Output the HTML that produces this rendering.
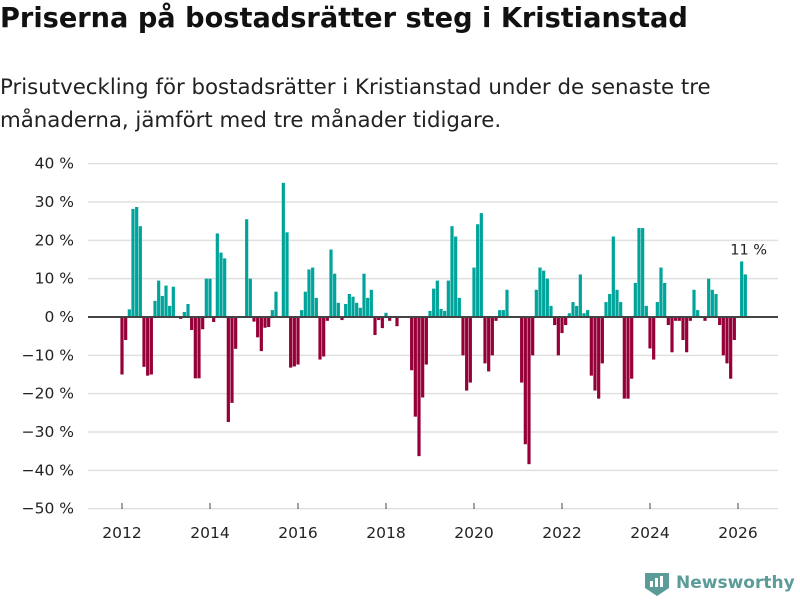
<!DOCTYPE html>
<html><head><meta charset="utf-8">
<style>
body{margin:0;width:800px;height:600px;background:#fff;font-family:"DejaVu Sans","Liberation Sans",sans-serif;overflow:hidden;position:relative}
#title{position:absolute;left:0;top:3px;font-size:27.2px;font-weight:bold;color:#111;white-space:nowrap}
#sub{position:absolute;left:0;top:71px;font-size:21.3px;line-height:33px;color:#222;white-space:nowrap}
svg{position:absolute;left:0;top:0}
</style></head><body>
<div id="title">Priserna på bostadsrätter steg i Kristianstad</div>
<div id="sub">Prisutveckling för bostadsrätter i Kristianstad under de senaste tre<br>månaderna, jämfört med tre månader tidigare.</div>
<svg id="chart" width="800" height="600"></svg>
<script>
const startYear = 2012;
const values = [
-15,-6,2,28.2,28.7,23.7,-13,-15.3,-15,4.2,9.5,5.5,8.2,2.9,7.9,null,-0.5,1.3,3.4,-3.4,
-16,-16,-3.2,10,10,-1.3,21.8,16.8,15.3,-27.4,-22.4,-8.3,null,null,25.5,10,-1.2,-5.3,-8.9,-2.8,
-2.6,1.8,6.6,null,35,22.1,-13.2,-12.9,-12.4,1.8,6.6,12.4,12.9,5,-11.1,-10.3,-1,17.6,11.3,3.7,
-0.8,3.4,6,5.3,3.7,2.4,11.3,5,7.1,-4.7,-0.8,-2.9,1.1,-1,null,-2.4,null,null,null,-13.9,
-26,-36.3,-21,-12.4,1.6,7.4,9.5,2.1,1.6,9.5,23.7,21,5,-10,-19.2,-17.1,12.9,24.2,27.1,-12.1,
-14.2,-10,-1,1.8,1.8,7.1,null,null,null,-17.1,-33.2,-38.4,-10,7.1,12.9,12.1,10,2.9,-2.1,-10,
-4.2,-2.1,1,3.9,2.9,11.1,1,1.8,-15.3,-19.2,-21.3,-12.1,3.9,6,21,7.1,3.9,-21.3,-21.3,-16.1,
8.9,23.2,23.2,2.9,-8.2,-11.1,3.9,12.9,8.9,-2.1,-9.2,-1,-1,-6,-9.2,-1,7.1,1.8,null,-1,
10,7.1,6,-2.1,-10,-12.1,-16.1,-6,null,14.5,11.1];
const yTicks = [40,30,20,10,0,-10,-20,-30,-40,-50];
const xTickYears = [2012,2014,2016,2018,2020,2022,2024,2026];
const lastLabel = "11 %";

const svg = document.getElementById('chart');
const NS = 'http://www.w3.org/2000/svg';
const y0 = 317, pxPer = 3.833;
function yScale(v){ return y0 - v*pxPer; }
function xScale(i){ return 122 + i*44/12; }
function mk(tag, attrs, text){ const e=document.createElementNS(NS,tag); for(const k in attrs) e.setAttribute(k,attrs[k]); if(text!==undefined) e.textContent=text; svg.appendChild(e); return e; }

yTicks.forEach(t=>{
  const g = mk('line',{x1:88,x2:778,y1:yScale(t),y2:yScale(t),stroke:'#e0e0e0','stroke-width':1.5});
  
  
  const l = mk('text',{x:74,y:yScale(t)+5,'text-anchor':'end','font-size':15.5,fill:'#222'}, (t<0?'\u2212'+(-t):t)+' %');
  
  
});
xTickYears.forEach(yr=>{
  const x = xScale((yr-startYear)*12);
  const tk = mk('line',{x1:x,x2:x,y1:503,y2:509,stroke:'#444','stroke-width':1});
  
  
  const l = mk('text',{x:x,y:538,'text-anchor':'middle','font-size':15.5,fill:'#222'}, yr);
  
  
});
values.forEach((v,i)=>{
  if(v===null) return;
  const x = xScale(i);
  const y = yScale(Math.max(v,0)), h = Math.abs(v)*pxPer;
  const r = mk('rect',{x:x-1.6,y:y,width:3.2,height:h,fill: v>=0?'#00a49a':'#960038'});
  
  
});
const ax = mk('line',{x1:88,x2:778,y1:y0,y2:y0,stroke:'#444','stroke-width':2});


const li = values.length-2;
const lbl = mk('text',{x:xScale(li)+7,y:yScale(values[li])-7,'text-anchor':'middle','font-size':14.5,fill:'#222'}, lastLabel);


</script>
<div style="position:absolute;left:645px;top:570px;display:flex;align-items:center">
<svg width="24" height="26" style="position:static"><path d="M0 3h24v15l-12 8-12-8z" fill="#5b9c99"/><rect x="5" y="11" width="3" height="6" fill="#fff"/><rect x="10" y="8" width="3" height="9" fill="#fff"/><rect x="15" y="6" width="3" height="11" fill="#fff"/></svg>
<span style="font-size:17px;font-weight:bold;color:#5b9c99;margin-left:7px">Newsworthy</span></div>
</body></html>
